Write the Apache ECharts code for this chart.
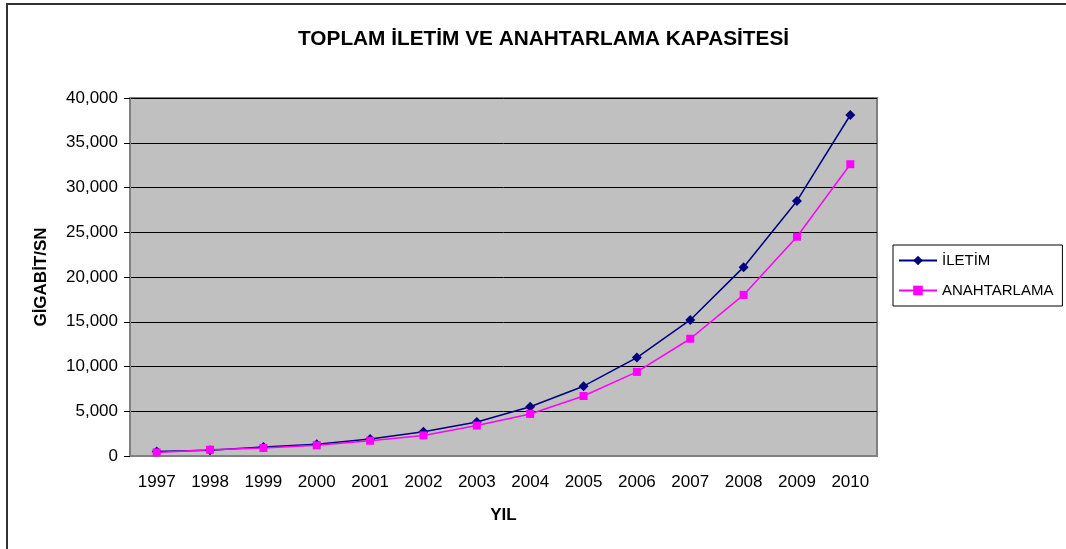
<!DOCTYPE html>
<html>
<head>
<meta charset="utf-8">
<title>Toplam İletim ve Anahtarlama Kapasitesi</title>
<script src="https://cdn.jsdelivr.net/npm/echarts@6/dist/echarts.min.js"></script>
<style>
  html, body { margin: 0; padding: 0; background: #fff; }
  #wrap { position: relative; width: 1066px; height: 549px; overflow: hidden; }
  #chart { width: 1066px; height: 549px; }
  #frame {
    position: absolute; left: 6px; top: 3px; width: 1080px; height: 560px;
    border-left: 2px solid #333; border-top: 2px solid #333;
    pointer-events: none; box-sizing: border-box;
  }
</style>
</head>
<body>
<div id="wrap">
  <div id="chart"></div>
  <div id="frame"></div>
</div>
<script>
// yıllar
const years = ['1997', '1998', '1999', '2000', '2001', '2002', '2003', '2004', '2005', '2006', '2007', '2008', '2009', '2010']
// gigabit/sn
const iletim = [500, 650, 1000, 1300, 1900, 2700, 3800, 5500, 7800, 11000, 15200, 21100, 28500, 38100]
const anahtarlama = [400, 700, 900, 1200, 1700, 2300, 3400, 4700, 6700, 9400, 13100, 18000, 24500, 32600]

const font = '"Liberation Sans", Arial, sans-serif'

const chart = echarts.init(document.getElementById('chart'))

chart.setOption({
  animation: false,
  textStyle: { fontFamily: font, color: '#000' },
  title: {
    text: 'TOPLAM İLETİM VE ANAHTARLAMA KAPASİTESİ',
    left: 293,
    top: 24,
    textStyle: { fontSize: 20.8, fontWeight: 'bold', color: '#000', fontFamily: font }
  },
  legend: {
    orient: 'vertical',
    left: 893,
    top: 245,
    padding: [8, 9, 8, 5],
    itemWidth: 38,
    itemHeight: 12,
    itemGap: 15,
    backgroundColor: '#fff',
    borderColor: '#000',
    borderWidth: 1,
    borderRadius: 0,
    textStyle: { fontSize: 15, color: '#000', fontFamily: font }
  },
  grid: {
    left: 130,
    right: 189,
    top: 98,
    bottom: 93,
    show: true,
    backgroundColor: '#C0C0C0',
    borderColor: '#808080',
    borderWidth: 2
  },
  xAxis: {
    type: 'category',
    data: years,
    name: 'YIL',
    nameLocation: 'middle',
    nameGap: 51,
    nameTextStyle: { fontSize: 17, fontWeight: 'bold', color: '#000' },
    axisLine: { lineStyle: { color: '#808080', width: 2 } },
    axisTick: { length: 6, lineStyle: { color: '#000' } },
    axisLabel: { fontSize: 17, color: '#000', margin: 18 }
  },
  yAxis: {
    type: 'value',
    min: 0,
    max: 40000,
    interval: 5000,
    name: 'GİGABİT/SN',
    nameLocation: 'middle',
    nameGap: 80,
    nameTextStyle: { fontSize: 17, fontWeight: 'bold', color: '#000' },
    axisLine: { show: true, lineStyle: { color: '#808080', width: 2 } },
    axisTick: { show: true, length: 6, lineStyle: { color: '#000' } },
    axisLabel: {
      fontSize: 17,
      color: '#000',
      margin: 12,
      formatter: v => v.toLocaleString('en-US')
    },
    splitLine: { lineStyle: { color: '#000', width: 1 } }
  },
  series: [
    {
      name: 'İLETİM',
      type: 'line',
      data: iletim,
      symbol: 'diamond',
      symbolSize: 10,
      itemStyle: { color: '#000080' },
      lineStyle: { color: '#000080', width: 1.5 }
    },
    {
      name: 'ANAHTARLAMA',
      type: 'line',
      data: anahtarlama,
      symbol: 'rect',
      symbolSize: 8,
      itemStyle: { color: '#FF00FF' },
      lineStyle: { color: '#FF00FF', width: 1.5 }
    }
  ]
})
</script>
</body>
</html>
